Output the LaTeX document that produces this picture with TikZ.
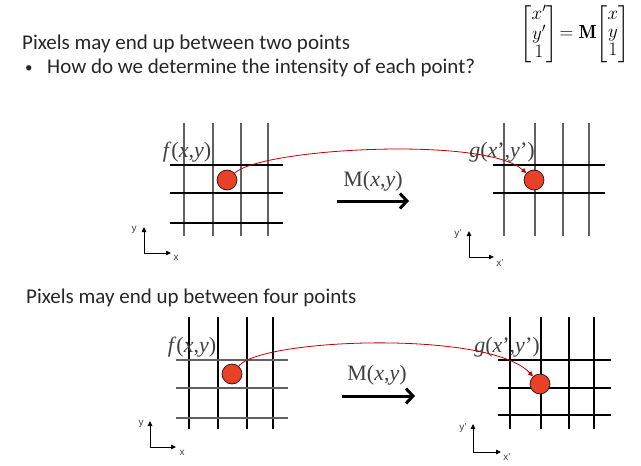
\documentclass[tikz,border=0pt]{standalone}
\usepackage{amsmath}
\usepackage{fontspec}
\usepackage{tikz}
\usetikzlibrary{arrows.meta}
\newfontfamily\slidefont{Carlito}
\newfontfamily\timesfont{Liberation Serif}
\newfontfamily\arialfont{Liberation Sans}
\definecolor{pixelred}{RGB}{232,65,40}
\definecolor{mapred}{RGB}{192,0,0}
\definecolor{textgray}{RGB}{38,38,38}

\begin{document}
\begin{tikzpicture}[x=1pt, y=-1pt,
  gridline/.style={line width=1.1pt, black},
  dimline/.style={line width=1.1pt, black!62},
  pixel/.style={circle, draw, line width=0.6pt, fill=pixelred, minimum size=20pt, inner sep=0pt},
  map/.style={draw=mapred, line width=0.8pt, -{Triangle[length=5pt,width=4.5pt]}},
  bigarrow/.style={line width=3pt, -{Straight Barb[length=7pt,width=15pt]}},
  axis/.style={line width=0.8pt, {Triangle[length=5pt,width=4.5pt]}-{Triangle[length=5pt,width=4.5pt]}},
  axlabel/.style={font=\arialfont\fontsize{10}{10}\selectfont, text=black!75, inner sep=0pt},
  funclabel/.style={font=\timesfont\fontsize{22}{22}\selectfont, text=black!75, inner sep=0pt},
  slidetext/.style={font=\slidefont\fontsize{21}{24}\selectfont, text=textgray, anchor=base west, inner sep=0pt}]
  \useasboundingbox (0,0) rectangle (641,466);

  \node[slidetext] (line1) at (22,49) {Pixels may end up between two points};
  \node[slidetext, font=\slidefont\fontsize{15}{15}\selectfont] (bullet) at (25,72) {\textbullet};
  \node[slidetext] (line2) at (47,73) {How do we determine the intensity of each point?};
  \node[slidetext] (line3) at (26,303) {Pixels may end up between four points};
  \node[font=\fontsize{17.28}{16.5}\selectfont, inner sep=0pt, scale=1.1, anchor=north] (eqn) at (575,5)
    {\setlength{\arraycolsep}{0.5pt}$\begin{bmatrix}x'\\y'\\1\end{bmatrix}\!=\mathbf{M}\!\begin{bmatrix}x\\y\\1\end{bmatrix}$};

  % two points
  \foreach \x in {184,213,241,268} \draw[dimline] (\x,123) -- (\x,236);
  \foreach \y in {165,193,223} \draw[gridline] (170,\y) -- (283,\y);
  \foreach \x in {504,535,563,589} \draw[dimline] (\x,123) -- (\x,236);
  \foreach \y in {165,193} \draw[gridline] (493,\y) -- (605,\y);
  \node[funclabel] (f1) at (187,152) {\textit{f}(\textit{x},\textit{y})};
  \node[funclabel] (g1) at (502,152) {\textit{g}(\textit{x}’,\textit{y}’)};
  \node[pixel] (p1) at (227,180) {};
  \node[pixel] (q1) at (534,180) {};
  \draw[map] (p1) .. controls (262,148) and (485,136) .. (q1);
  \node[funclabel] (m1) at (373,181) {M(\textit{x},\textit{y})};
  \coordinate (ma1) at (337,201);
  \coordinate (mb1) at (409,201);
  \draw[bigarrow] (ma1) -- (mb1);
  \coordinate (ya1) at (144,227);
  \coordinate (xa1) at (171,253);
  \draw[axis] (ya1) |- (xa1);
  \node[axlabel] at (134,230) {y};
  \node[axlabel] at (176,258) {x};
  \coordinate (ya2) at (469,231);
  \coordinate (xa2) at (494,257);
  \draw[axis] (ya2) |- (xa2);
  \node[axlabel] at (458,234) {y’};
  \node[axlabel] at (500,263) {x’};

  % four points
  \foreach \x in {189,218,247,273} \draw[gridline] (\x,317) -- (\x,429);
  \foreach \y in {360,388,418} \draw[dimline] (176,\y) -- (288,\y);
  \foreach \x in {510,541,569,594} \draw[gridline] (\x,317) -- (\x,429);
  \foreach \y in {360,388,415} \draw[gridline] (498,\y) -- (611,\y);
  \node[funclabel] (f2) at (192,347) {\textit{f}(\textit{x},\textit{y})};
  \node[funclabel] (g2) at (507,347) {\textit{g}(\textit{x}’,\textit{y}’)};
  \node[pixel] (p2) at (232,374) {};
  \node[pixel] (q2) at (540,384) {};
  \draw[map] (p2) .. controls (262,338) and (490,330) .. (q2);
  \node[funclabel] (m2) at (377,375) {M(\textit{x},\textit{y})};
  \coordinate (ma2) at (342,396);
  \coordinate (mb2) at (415,396);
  \draw[bigarrow] (ma2) -- (mb2);
  \coordinate (ya3) at (150,421);
  \coordinate (xa3) at (176,447);
  \draw[axis] (ya3) |- (xa3);
  \node[axlabel] at (141,424) {y};
  \node[axlabel] at (182,453) {x};
  \coordinate (ya4) at (473,424);
  \coordinate (xa4) at (501,452);
  \draw[axis] (ya4) |- (xa4);
  \node[axlabel] at (463,428) {y’};
  \node[axlabel] at (507,457) {x’};
\end{tikzpicture}
\end{document}
